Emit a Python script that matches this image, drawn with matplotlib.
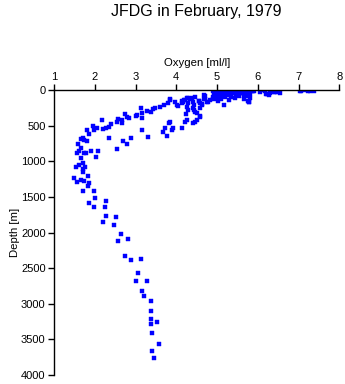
import numpy as np
from matplotlib import pyplot as plt

# oxygen [ml/l] and depth [m]
oxygen_deep = [2.06, 1.98, 1.96, 1.80, 1.86, 1.70, 1.66, 1.74, 1.82, 1.59,
               2.35, 2.09, 1.90, 1.66, 1.61, 1.57, 1.74, 1.78, 2.02, 1.66,
               1.70, 1.53, 1.61, 1.75, 1.70, 1.72, 1.84, 1.49, 1.56, 1.67,
               1.74, 1.86, 1.84, 1.71, 1.97, 2.00, 2.27, 1.85, 1.98, 2.25,
               2.27, 2.52, 2.21, 2.47, 2.64, 2.82, 2.56, 2.74, 2.90, 3.13,
               3.07, 3.29, 3.01, 3.17, 3.21, 3.38, 3.37, 3.38, 3.38, 3.53,
               3.40, 3.57, 3.40, 3.46]
depth_deep = [529, 561, 505, 561, 622, 669, 688, 702, 716, 762,
              669, 856, 856, 818, 856, 888, 880, 888, 945, 959,
              1020, 1076, 1053, 1076, 1113, 1147, 1207, 1239, 1295, 1263,
              1273, 1309, 1343, 1413, 1413, 1512, 1554, 1590, 1638, 1646,
              1764, 1787, 1857, 1895, 2025, 2095, 2119, 2330, 2386, 2376,
              2564, 2677, 2677, 2817, 2891, 2961, 3102, 3218, 3291, 3260,
              3410, 3568, 3656, 3766]

oxygen_mid = [2.19, 2.21, 2.27, 2.35, 2.39, 2.54, 2.56, 2.68, 2.68, 2.74,
              2.80, 2.83, 3.01, 3.03, 3.14, 3.17, 3.17, 3.29, 3.38, 3.44,
              3.48, 3.60, 3.69, 3.79, 3.85, 3.85, 3.97, 4.01, 4.05, 4.14,
              4.16, 4.22, 4.26, 4.30, 4.38, 4.28, 4.26, 4.30, 4.42, 4.44,
              4.42, 4.46, 4.59, 4.55, 4.63, 4.67, 4.71, 4.79, 4.24, 4.26,
              4.51, 4.42, 4.59, 4.22, 4.15, 3.93, 3.89, 3.73, 3.67, 3.77,
              3.85, 3.83, 3.31, 3.17, 2.90, 2.70, 2.79, 2.54, 4.46, 4.51,
              4.44, 4.59, 4.69, 4.75, 4.83, 4.91, 4.71, 4.59, 4.56, 4.63,
              4.46, 4.34, 4.18, 4.14]
depth_mid = [421, 552, 538, 515, 481, 445, 411, 421, 467, 341,
             383, 397, 361, 351, 257, 327, 389, 295, 305, 267,
             257, 234, 211, 187, 131, 140, 164, 211, 225, 154,
             164, 140, 116, 116, 116, 187, 234, 281, 164, 211,
             257, 305, 257, 154, 201, 126, 80, 164, 341, 421,
             421, 467, 375, 453, 538, 538, 561, 538, 585, 641,
             453, 459, 655, 561, 678, 712, 762, 828, 445, 327,
             281, 365, 70, 164, 140, 94, 131, 187, 154, 211,
             102, 131, 140, 187]

oxygen_surf = [4.90, 4.95, 4.98, 5.00, 5.02, 5.05, 5.07, 5.08, 5.10, 5.12,
               5.13, 5.15, 5.17, 5.20, 5.22, 5.24, 5.25, 5.27, 5.30, 5.32,
               5.34, 5.36, 5.38, 5.40, 5.42, 5.45, 5.47, 5.50, 5.52, 5.55,
               5.57, 5.60, 5.62, 5.65, 5.68, 5.70, 5.72, 5.75, 5.78, 5.80,
               5.85, 5.88, 4.92, 4.94, 4.97, 5.00, 5.05, 4.89, 5.10, 5.20,
               5.35, 5.16, 5.30, 5.45, 5.75, 5.82, 5.65, 4.99, 5.03, 5.78,
               5.65, 5.53, 6.06, 6.14, 5.73, 5.77, 5.90, 5.79, 6.18, 6.23,
               6.27, 6.31, 6.35, 6.39, 6.43, 6.47, 6.51, 6.55, 6.20, 7.04,
               7.17, 7.29, 7.37, 7.07, 7.24]
depth_surf = [10, 25, 40, 5, 55, 15, 30, 70, 45, 10,
              90, 30, 60, 5, 40, 20, 75, 50, 10, 35,
              60, 20, 5, 45, 25, 10, 70, 30, 15, 50,
              5, 35, 20, 60, 10, 40, 25, 90, 15, 55,
              20, 10, 60, 85, 110, 130, 100, 120, 120, 100,
              95, 211, 140, 110, 160, 118, 85, 80, 150, 168,
              122, 84, 28, 0, 14, 70, 14, 164, 14, 60,
              70, 38, 14, 24, 32, 24, 14, 46, 56, 14,
              4, 14, 14, 20, 7]

oxygen = np.array(oxygen_deep + oxygen_mid + oxygen_surf)
depth = np.array(depth_deep + depth_mid + depth_surf)

plt.rcParams['font.family'] = ['Liberation Sans', 'DejaVu Sans']
fig = plt.figure(figsize=(3.45, 3.84), dpi=100)
ax = fig.add_axes([0.1565, 0.0234, 0.827, 0.7422])

ax.plot(oxygen, depth, 's', color='#0000ff', markersize=2.3, markeredgewidth=0.3)

ax.set_xlim(1, 8)
ax.set_ylim(4000, 0)
ax.set_xticks(np.arange(1, 9))
ax.set_yticks(np.arange(0, 4001, 500))
ax.xaxis.tick_top()
ax.xaxis.set_label_position('top')
ax.spines['right'].set_visible(False)
ax.spines['bottom'].set_visible(False)
ax.spines['left'].set_linewidth(1)
ax.spines['top'].set_linewidth(1)
ax.tick_params(direction='out', length=4, width=1, labelsize=8, pad=2)
ax.set_xlabel('Oxygen [ml/l]', fontsize=8.2, labelpad=4)
ax.set_ylabel('Depth [m]', fontsize=8.2, labelpad=1)

fig.text(0.57, 0.969, 'JFDG in February, 1979', ha='center', va='center', fontsize=11.5)

plt.savefig('out.png', dpi=100)
